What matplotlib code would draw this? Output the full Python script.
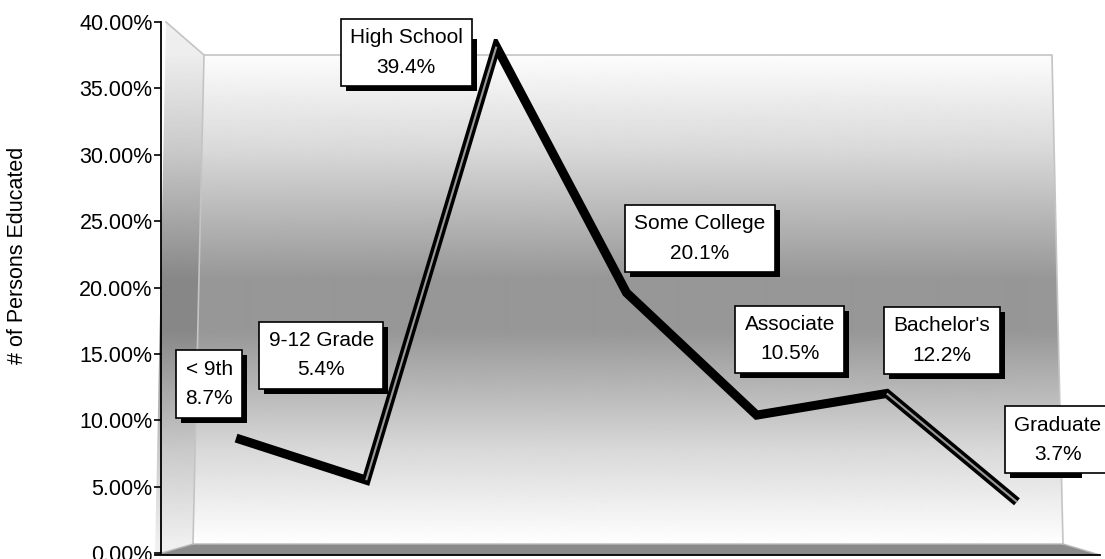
import numpy as np
import matplotlib
matplotlib.use("Agg")
import matplotlib.pyplot as plt
from matplotlib.patches import Polygon, Rectangle
from matplotlib.ticker import FuncFormatter

plt.rcParams['font.family'] = ['Liberation Sans', 'DejaVu Sans']

# ---- data ----
categories = ["< 9th", "9-12 Grade", "High School", "Some College",
              "Associate", "Bachelor's", "Graduate"]
values = [8.7, 5.4, 39.4, 20.1, 10.5, 12.2, 3.7]          # percent
y_ticks = [0, 5, 10, 15, 20, 25, 30, 35, 40]               # percent
y_label = "# of Persons Educated"

# label offsets in pixels (dx right, dy up) -- styling
label_offsets = [(-27, 54), (-45, 125), (-90, -6), (73, 54), (33, 76), (55, 53), (41, 62)]

W, H = 1105, 559
fig = plt.figure(figsize=(W / 100, H / 100), dpi=100)

def fx(px):
    return px / W

def fy(py):
    return 1 - py / H

# ---- background "3D" walls ----
bg = fig.add_axes([0, 0, 1, 1], zorder=0)
bg.set_xlim(0, W)
bg.set_ylim(H, 0)
bg.axis('off')

rows = np.arange(H)
shade = np.interp(rows, [0, 55, 150, 280, 330, 450, 544, H],
                  [1.0, 0.99, 0.85, 0.59, 0.59, 0.85, 1.0, 1.0])

def grad_poly(pts, darken=0.0):
    poly = Polygon(pts, closed=True, transform=bg.transData, fill=False, lw=0)
    bg.add_patch(poly)
    img = bg.imshow(np.clip(shade - darken, 0, 1)[:, None], cmap='gray', vmin=0, vmax=1,
                    extent=(0, W, H, 0), origin='upper', aspect='auto',
                    interpolation='bilinear', zorder=0)
    img.set_clip_path(poly)

back = [(204, 55), (1052, 55), (1063, 544), (193, 544)]
left = [(166, 22), (204, 55), (193, 544), (155, 555)]
grad_poly(back)
grad_poly(left, 0.06)
floor = Polygon([(155, 555), (193, 544), (1063, 544), (1100, 555)], closed=True,
                fc='#8a8a8a', ec='none', zorder=1)
bg.add_patch(floor)
edge_kw = dict(color='#c4c4c4', lw=1.2, zorder=2)
bg.plot([166, 204, 1052, 1063], [22, 55, 55, 544], **edge_kw)
bg.plot([204, 193], [55, 544], **edge_kw)
bg.plot([155, 193, 1063, 1100], [555, 544, 544, 555], color='#b8b8b8', lw=1.0, zorder=2)
bg.plot([155, 1100], [555, 555], color='black', lw=1.3, zorder=3)

# ---- front axis with ticks ----
ax_t = fig.add_axes([fx(161), fy(553), fx(1100) - fx(161), fy(22) - fy(553)], zorder=1)
ax_t.patch.set_visible(False)
ax_t.set_ylim(0, 40)
ax_t.set_xlim(0, 1)
ax_t.set_yticks(y_ticks)
ax_t.yaxis.set_major_formatter(FuncFormatter(lambda v, p: f"{v:.2f}%"))
ax_t.set_xticks([])
for s in ['top', 'right', 'bottom']:
    ax_t.spines[s].set_visible(False)
ax_t.spines['left'].set_linewidth(1.3)
ax_t.tick_params(axis='y', length=5, width=1.2, pad=1, labelsize=15.5)
fig.text(fx(18), fy(255), y_label, rotation=90, ha='center', va='center', fontsize=15.5)

# ---- data line ----
ax = fig.add_axes([fx(171), fy(549), fx(1082) - fx(171), fy(39) - fy(549)], zorder=2)
ax.patch.set_visible(False)
ax.set_xlim(-0.5, len(categories) - 0.5)
ax.set_ylim(0, 40)
ax.axis('off')

x = np.arange(len(categories))
ax.plot(x, values, color='black', lw=6.5, solid_joinstyle='miter',
        solid_capstyle='butt', zorder=3)
# highlight stripe on steep segments (ribbon top surface)
for a, b in [(1, 2), (5, 6)]:
    ax.plot(x[a:b + 1], values[a:b + 1], color='#9a9a9a', lw=1.5,
            solid_capstyle='butt', zorder=4)

annots = []
for i, (cat, val) in enumerate(zip(categories, values)):
    dx, dy = label_offsets[i]
    txt = f"{cat}\n{val:.1f}%"
    a = ax.annotate(txt, xy=(x[i], val), xytext=(dx * 0.72, dy * 0.72),
                    textcoords='offset points', ha='center', va='center',
                    multialignment='center', fontsize=15, linespacing=1.7,
                    annotation_clip=False, color='black',
                    bbox=dict(boxstyle='square,pad=0.45', fc='white', ec='black', lw=1.2),
                    zorder=6)
    annots.append(a)

# drop shadows behind the label boxes
fig.canvas.draw()
for a in annots:
    bb = a.get_bbox_patch().get_window_extent()
    ax.add_artist(Rectangle((bb.x0 + 5, bb.y0 - 5), bb.width, bb.height,
                            transform=None, fc='black', ec='none', zorder=5))

fig.savefig("out.png", dpi=100)
